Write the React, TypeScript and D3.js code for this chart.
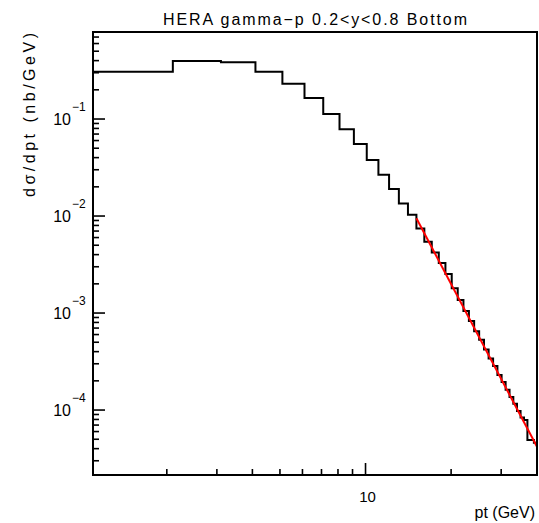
import React from "react";
import * as d3 from "d3";

// ---- data ----
const binEdges = [
  1.1, 2.1, 3.1, 4.1, 5.1, 6.1, 7.1, 8.1, 9.1, 10.1, 11.1, 12.1, 13.1, 14.1,
  15.1, 16.1, 17.1, 18.1, 19.1, 20.1, 21.1, 22.1, 23.1, 24.1, 25.1, 26.1,
  27.1, 28.1, 29.1, 30.1, 31.1, 32.1, 33.1, 34.1, 35.1, 36.1, 37.1, 38.1,
  39.1, 40.1,
];
const binValues = [
  0.307, 0.396, 0.384, 0.307, 0.231, 0.1646, 0.1126, 0.0783, 0.0553, 0.0378,
  0.0267, 0.019, 0.01346, 0.01031, 7.43e-3, 5.43e-3, 4.21e-3, 3.28e-3,
  2.52e-3, 1.8e-3, 1.36e-3, 1.05e-3, 8.3e-4, 6.5e-4, 5.3e-4, 4.2e-4, 3.4e-4,
  2.85e-4, 2.3e-4, 1.95e-4, 1.62e-4, 1.36e-4, 1.16e-4, 9.8e-5, 8.4e-5,
  7.9e-5, 4.9e-5, 4.9e-5, 4.6e-5,
];
const fitPt = [15.1, 40.1];
const fitValues = [9.47e-3, 4.19e-5];
const xDomain = [1.1, 40.1];
const yDomain = [2.14e-5, 0.789];
const xMajorTicks = [10];
const xMinorTicks = [2, 3, 4, 5, 6, 7, 8, 9, 20, 30];
const yMajorExponents = [-1, -2, -3, -4];
const titleText = "HERA gamma\u2212p  0.2<y<0.8 Bottom";
const yLabelText = "d\u03c3/dpt  (nb/GeV)";
const xLabelText = "pt (GeV)";

const W = 539;
const H = 523;
const L = 93;
const R = 537;
const T = 32;
const B = 475;

export default function App() {
  const x = d3.scaleLog().domain(xDomain).range([L, R]);
  const y = d3.scaleLog().domain(yDomain).range([B, T]);

  const pts: [number, number][] = [];
  binValues.forEach((v, i) => {
    pts.push([x(binEdges[i]), y(v)]);
    pts.push([x(binEdges[i + 1]), y(v)]);
  });
  const histPath = d3.line()(pts) || "";

  const fitPath =
    d3.line()(fitPt.map((p, i) => [x(p), y(fitValues[i])] as [number, number])) || "";

  const yMinor: number[] = [];
  for (let e = -5; e <= 0; e++) {
    for (let m = 2; m <= 9; m++) {
      const v = m * Math.pow(10, e);
      if (v > yDomain[0] && v < yDomain[1]) yMinor.push(v);
    }
  }

  const font = "'Liberation Sans', Arial, Helvetica, sans-serif";

  return (
    <svg
      width={W}
      height={H}
      style={{ position: "absolute", left: 0, top: 0, background: "#fff" }}
    >
      <rect x={0} y={0} width={W} height={H} fill="#fff" />
      <text
        x={(L + R) / 2}
        y={25}
        textAnchor="middle"
        fontFamily={font}
        fontSize={16}
        textLength={304}
        lengthAdjust="spacing"
        fill="#000"
      >
        {titleText}
      </text>

      <path d={histPath} fill="none" stroke="#000" strokeWidth={2} />
      <path d={fitPath} fill="none" stroke="#ff0000" strokeWidth={2} />

      {yMajorExponents.map((e) => (
        <line
          key={"ym" + e}
          x1={L}
          x2={L + 12}
          y1={y(Math.pow(10, e))}
          y2={y(Math.pow(10, e))}
          stroke="#000"
          strokeWidth={1.6}
        />
      ))}
      {yMinor.map((v, i) => (
        <line
          key={"yn" + i}
          x1={L}
          x2={L + 6}
          y1={y(v)}
          y2={y(v)}
          stroke="#000"
          strokeWidth={1.6}
        />
      ))}
      {yMajorExponents.map((e) => (
        <text
          key={"yl" + e}
          x={71}
          y={y(Math.pow(10, e)) + 6}
          textAnchor="end"
          fontFamily={font}
          fontSize={16}
          fill="#000"
        >
          10
        </text>
      ))}
      {yMajorExponents.map((e) => (
        <text
          key={"ys" + e}
          x={72}
          y={y(Math.pow(10, e)) - 8}
          textAnchor="start"
          fontFamily={font}
          fontSize={12}
          fill="#000"
        >
          {"\u2212" + Math.abs(e)}
        </text>
      ))}

      {xMajorTicks.map((t) => (
        <line
          key={"xm" + t}
          x1={x(t)}
          x2={x(t)}
          y1={B}
          y2={B - 12}
          stroke="#000"
          strokeWidth={1.6}
        />
      ))}
      {xMinorTicks.map((t) => (
        <line
          key={"xn" + t}
          x1={x(t)}
          x2={x(t)}
          y1={B}
          y2={B - 6}
          stroke="#000"
          strokeWidth={1.6}
        />
      ))}
      {xMajorTicks.map((t) => (
        <text
          key={"xl" + t}
          x={x(t) + 2}
          y={501.5}
          textAnchor="middle"
          fontFamily={font}
          fontSize={15}
          fill="#000"
        >
          {t}
        </text>
      ))}

      <rect
        x={L}
        y={T}
        width={R - L}
        height={B - T}
        fill="none"
        stroke="#000"
        strokeWidth={2}
      />

      <text
        x={535}
        y={518}
        textAnchor="end"
        fontFamily={font}
        fontSize={16}
        fill="#000"
      >
        {xLabelText}
      </text>
      <text
        transform={`translate(35,115) rotate(-90)`}
        textAnchor="middle"
        fontFamily={font}
        fontSize={16}
        textLength={164}
        lengthAdjust="spacing"
        fill="#000"
      >
        {yLabelText}
      </text>
    </svg>
  );
}
